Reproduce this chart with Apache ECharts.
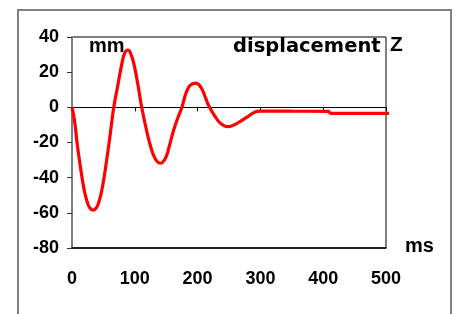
<!DOCTYPE html>
<html>
<head>
<meta charset="utf-8">
<script src="https://cdn.jsdelivr.net/npm/echarts@6/dist/echarts.min.js"></script>
<style>html,body{margin:0;padding:0;background:#fff}#c{width:456px;height:314px}</style>
</head>
<body>
<div id="c"></div>
<script>
// time in ms
var timeMs = [0, 4, 8, 12, 16, 20, 24, 28, 33.5, 39, 43, 47, 51, 56, 61, 66.5, 73, 79, 84, 89, 94, 99, 105, 111, 118, 126, 132, 137, 141, 145, 150, 155, 161, 168, 175, 181, 188, 197, 205, 212, 219, 230, 238, 248, 258, 268, 280, 290, 299, 350, 408, 412, 460, 506];
// displacement Z in mm
var dispMm = [0, -7.5, -20, -30.5, -40, -48, -53.5, -57, -58.5, -57, -53.5, -48, -40, -28, -15, 0, 12.5, 24, 31, 32.6, 30, 24, 12.7, 0, -12, -23.3, -29, -31.3, -31.8, -31, -28, -22, -14, -6.5, 0, 7.5, 12.5, 13.8, 11.5, 6, 0, -6.3, -9.5, -11, -10, -8, -5.3, -3, -2.1, -2.2, -2.3, -3.4, -3.4, -3.4];
var xTicks = [0, 100, 200, 300, 400, 500];
var yTicks = [-80, -60, -40, -20, 0, 20, 40];

var pts = timeMs.map(function (t, i) { return [t, dispMm[i]]; });
var chart = echarts.init(document.getElementById('c'), null, {renderer: 'canvas'});
var lblFont = {fontFamily: 'Liberation Sans', fontWeight: 'bold', fontSize: 18, color: '#000'};
function txt(x, y, s, fam, size) {
  return {type: 'text', left: x, top: y, style: {text: s, fontFamily: fam, fontWeight: 'bold', fontSize: size, fill: '#000'}};
}
chart.setOption({
  animation: false,
  backgroundColor: '#fff',
  grid: {left: 72, right: 70, top: 37, bottom: 66, show: true, borderColor: '#000', borderWidth: 1, backgroundColor: 'transparent'},
  xAxis: [{
    type: 'value', min: xTicks[0], max: xTicks[xTicks.length - 1], interval: 100,
    axisLine: {onZero: true, lineStyle: {color: '#000', width: 1}},
    axisTick: {show: true, length: 4, lineStyle: {color: '#000'}},
    axisLabel: {show: false}, splitLine: {show: false}
  }, {
    type: 'value', position: 'bottom', min: xTicks[0], max: xTicks[xTicks.length - 1], interval: 100,
    axisLine: {onZero: false, show: true, lineStyle: {color: '#000', width: 1.5}},
    axisTick: {show: false},
    axisLabel: Object.assign({margin: 22}, lblFont), splitLine: {show: false}
  }],
  yAxis: {
    type: 'value', min: yTicks[0], max: yTicks[yTicks.length - 1], interval: 20,
    axisLine: {show: true, lineStyle: {color: '#808080', width: 2}},
    axisTick: {show: true, length: 5, lineStyle: {color: '#333'}},
    axisLabel: Object.assign({margin: 13}, lblFont), splitLine: {show: false}
  },
  series: [{
    type: 'line', data: pts, smooth: 0.5, symbol: 'none', clip: false,
    lineStyle: {color: '#ff0000', width: 3.2}
  }],
  graphic: [
    {type: 'rect', shape: {x: 18, y: 10, width: 433, height: 330}, style: {fill: 'none', stroke: '#808080', lineWidth: 2}, silent: true, z: -1},
    txt(89, 36, 'mm', 'Liberation Sans', 20),
    txt(233, 37, 'displacement', 'DejaVu Sans', 19.5),
    txt(390, 35, 'Z', 'Liberation Sans', 21),
    txt(405, 236, 'ms', 'Liberation Sans', 20)
  ]
});
</script>
</body>
</html>
